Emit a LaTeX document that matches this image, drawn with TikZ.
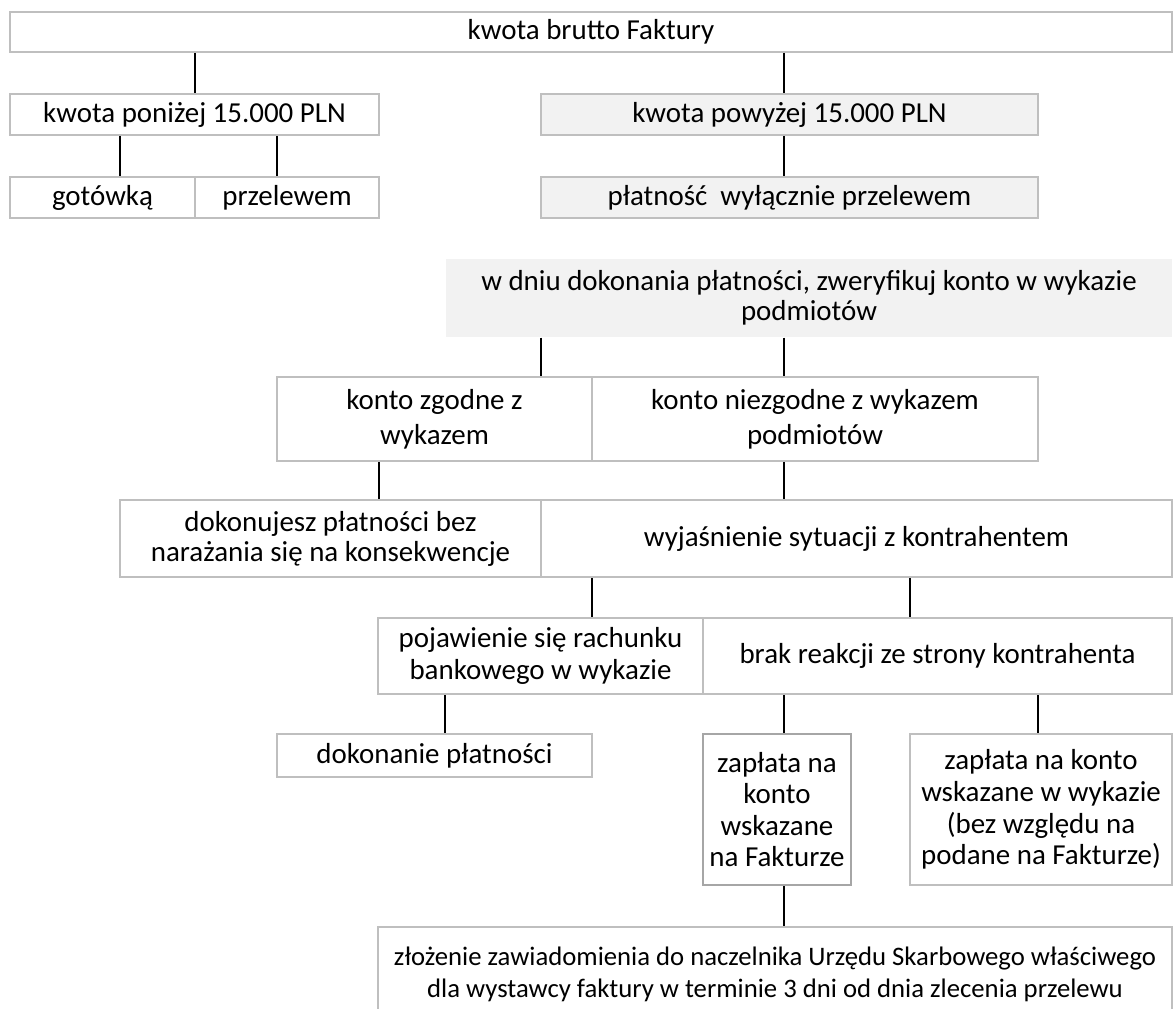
\documentclass[tikz,border=0pt]{standalone}
\usepackage{fontspec}
\setmainfont{Carlito}

\definecolor{cellgray}{HTML}{BFBFBF}
\definecolor{darkcell}{HTML}{A6A6A6}
\definecolor{shadegray}{HTML}{F2F2F2}

\begin{document}
\begin{tikzpicture}[x=0.38pt, y=-0.38pt,
    font=\fontsize{11}{12}\selectfont,
    place/.style args={#1/#2/#3/#4}{
        minimum width={(#3-#1)*0.38pt},
        minimum height={(#4-#2)*0.38pt},
        at={({(#1+#3)/2},{(#2+#4)/2})}
    },
    cell/.style={
        draw=cellgray,
        line width=0.76pt,
        inner sep=0pt,
        align=center
    },
    shaded/.style={
        cell,
        fill=shadegray
    },
    banner/.style={
        inner sep=0pt,
        fill=shadegray,
        align=center
    },
    tight/.style={
        font=\fontsize{11}{11.4}\selectfont
    },
    loose/.style={
        font=\fontsize{11}{13.3}\selectfont
    },
    link/.style={
        line width=0.7pt
    }
]

\useasboundingbox (0,0) rectangle (1174,1009);
\clip (0,0) rectangle (1174,1009);

% columns used by the connectors
\foreach \n/\x in {c1/120, c2/195, c3/277, c4/379, c5/445, c6/541,
                   c7/592, c8/703, c9/784, c10/910, c11/1038}
    \coordinate (\n) at (\x,0);

% =====================
% Amount
% =====================

\node[cell, place=10/12/1172/52] (top) {kwota brutto Faktury};

\node[cell, place=10/94/379/135] (lt) {kwota poniżej 15.000 PLN};
\node[shaded, place=541/94/1038/135] (gt) {kwota powyżej 15.000 PLN};

\node[cell, place=10/177/195/218] (cash) {gotówką};
\node[cell, place=195/177/379/218] (transfer) {przelewem};
\node[shaded, place=541/177/1038/218] (onlytr) {płatność~ wyłącznie przelewem};

\draw[link] (top.south -| c2) -- (lt.north -| c2);
\draw[link] (top.south -| c9) -- (gt.north -| c9);
\draw[link] (lt.south -| c1) -- (cash.north -| c1);
\draw[link] (lt.south -| c3) -- (transfer.north -| c3);
\draw[link] (gt.south -| c9) -- (onlytr.north -| c9);

% =====================
% Verification
% =====================

\node[banner, tight, place=446/259/1172/337] (verify) {w dniu dokonania płatności, zweryfikuj konto w wykazie\\podmiotów};

\node[cell, loose, place=277/377/592/461] (ok) {konto zgodne z\\wykazem};
\node[cell, loose, place=592/377/1038/461] (nok) {konto niezgodne z wykazem\\podmiotów};

\node[cell, tight, place=120/500/541/577] (pay) {dokonujesz płatności bez\\narażania się na konsekwencje};
\node[cell, place=541/500/1172/577] (clarify) {wyjaśnienie sytuacji z kontrahentem};

\draw[link] (verify.south -| c6) -- (ok.north -| c6);
\draw[link] (verify.south -| c9) -- (nok.north -| c9);
\draw[link] (ok.south -| c4) -- (pay.north -| c4);
\draw[link] (nok.south -| c9) -- (clarify.north -| c9);

% =====================
% Contractor reply
% =====================

\node[cell, place=378/618/703/694] (appear) {pojawienie się rachunku\\bankowego w wykazie};
\node[cell, place=703/618/1172/694] (noreact) {brak reakcji ze strony kontrahenta};

\node[cell, place=277/734/592/777] (done) {dokonanie płatności};
\node[cell, draw=darkcell, place=703/734/851/885] (invacc) {zapłata na\\konto\\wskazane\\na Fakturze};
\node[cell, place=910/734/1172/885] (listacc) {zapłata na konto\\wskazane w wykazie\\(bez względu na\\podane na Fakturze)};

\node[cell, font=\fontsize{10.15}{12.2}\selectfont, place=378/927/1172/1022] (notify) {złożenie zawiadomienia do naczelnika Urzędu Skarbowego właściwego\\dla wystawcy faktury w terminie 3 dni od dnia zlecenia przelewu};

\draw[link] (clarify.south -| c7) -- (appear.north -| c7);
\draw[link] (clarify.south -| c10) -- (noreact.north -| c10);
\draw[link] (appear.south -| c5) -- (done.north -| c5);
\draw[link] (noreact.south -| c9) -- (invacc.north -| c9);
\draw[link] (noreact.south -| c11) -- (listacc.north -| c11);
\draw[link] (invacc.south -| c9) -- (notify.north -| c9);

\end{tikzpicture}
\end{document}
